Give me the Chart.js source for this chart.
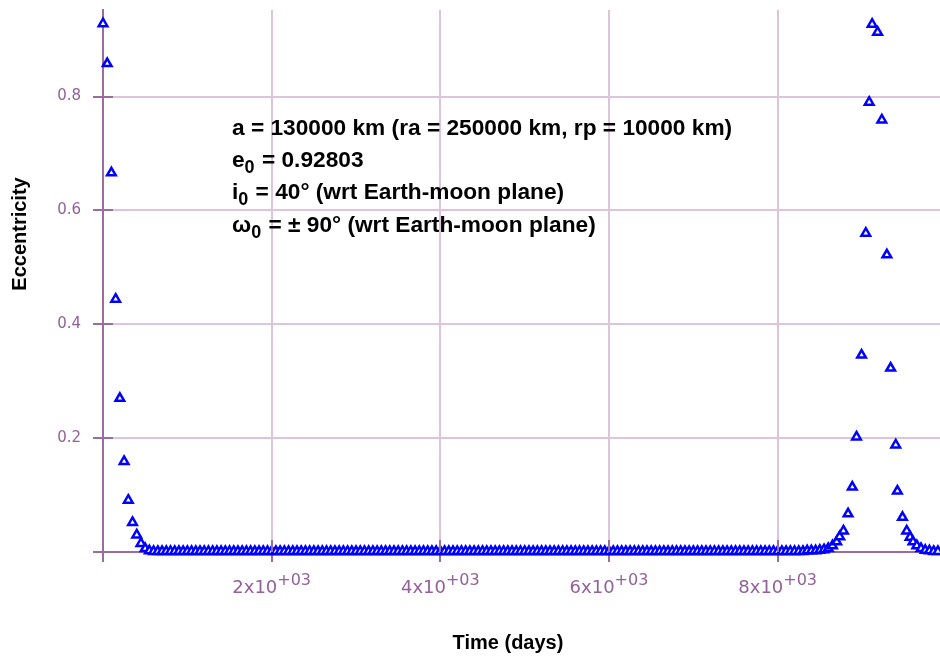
<!DOCTYPE html>
<html>
<head>
<meta charset="utf-8">
<script src="https://cdn.jsdelivr.net/npm/chart.js@4.4.1/dist/chart.umd.min.js"></script>
<style>
  html, body { margin: 0; padding: 0; background: #fff; }
  #wrap { width: 940px; height: 656px; position: relative; }
</style>
</head>
<body>
<div id="wrap"><canvas id="myChart"></canvas></div>
<script>
// time (days) of each sample
const timeDays = [
  0, 50, 100, 150, 200, 250, 300, 350, 400, 450, 500, 550, 600, 650, 700, 750, 800, 850, 900, 950,
  1000, 1050, 1100, 1150, 1200, 1250, 1300, 1350, 1400, 1450, 1500, 1550, 1600, 1650, 1700, 1750, 1800, 1850, 1900, 1950,
  2000, 2050, 2100, 2150, 2200, 2250, 2300, 2350, 2400, 2450, 2500, 2550, 2600, 2650, 2700, 2750, 2800, 2850, 2900, 2950,
  3000, 3050, 3100, 3150, 3200, 3250, 3300, 3350, 3400, 3450, 3500, 3550, 3600, 3650, 3700, 3750, 3800, 3850, 3900, 3950,
  4000, 4050, 4100, 4150, 4200, 4250, 4300, 4350, 4400, 4450, 4500, 4550, 4600, 4650, 4700, 4750, 4800, 4850, 4900, 4950,
  5000, 5050, 5100, 5150, 5200, 5250, 5300, 5350, 5400, 5450, 5500, 5550, 5600, 5650, 5700, 5750, 5800, 5850, 5900, 5950,
  6000, 6050, 6100, 6150, 6200, 6250, 6300, 6350, 6400, 6450, 6500, 6550, 6600, 6650, 6700, 6750, 6800, 6850, 6900, 6950,
  7000, 7050, 7100, 7150, 7200, 7250, 7300, 7350, 7400, 7450, 7500, 7550, 7600, 7650, 7700, 7750, 7800, 7850, 7900, 7950,
  8000, 8050, 8100, 8150, 8200, 8250, 8300, 8350, 8400, 8450,
  8500, 8550, 8600, 8650, 8700,
  8735, 8780, 8835, 8885, 8935, 8995, 9045, 9085, 9120, 9185, 9235, 9295, 9340, 9400, 9420,
  9480, 9530, 9570, 9605, 9650, 9700, 9750, 9800, 9850, 9900
];

const eccentricity = [
  0.928, 0.858, 0.666, 0.444, 0.270, 0.159, 0.091, 0.052, 0.030, 0.015, 0.006, 0.002, 0.001, 0.001, 0.001, 0.001, 0.001, 0.001, 0.001, 0.001,
  0.001, 0.001, 0.001, 0.001, 0.001, 0.001, 0.001, 0.001, 0.001, 0.001, 0.001, 0.001, 0.001, 0.001, 0.001, 0.001, 0.001, 0.001, 0.001, 0.001,
  0.001, 0.001, 0.001, 0.001, 0.001, 0.001, 0.001, 0.001, 0.001, 0.001, 0.001, 0.001, 0.001, 0.001, 0.001, 0.001, 0.001, 0.001, 0.001, 0.001,
  0.001, 0.001, 0.001, 0.001, 0.001, 0.001, 0.001, 0.001, 0.001, 0.001, 0.001, 0.001, 0.001, 0.001, 0.001, 0.001, 0.001, 0.001, 0.001, 0.001,
  0.001, 0.001, 0.001, 0.001, 0.001, 0.001, 0.001, 0.001, 0.001, 0.001, 0.001, 0.001, 0.001, 0.001, 0.001, 0.001, 0.001, 0.001, 0.001, 0.001,
  0.001, 0.001, 0.001, 0.001, 0.001, 0.001, 0.001, 0.001, 0.001, 0.001, 0.001, 0.001, 0.001, 0.001, 0.001, 0.001, 0.001, 0.001, 0.001, 0.001,
  0.001, 0.001, 0.001, 0.001, 0.001, 0.001, 0.001, 0.001, 0.001, 0.001, 0.001, 0.001, 0.001, 0.001, 0.001, 0.001, 0.001, 0.001, 0.001, 0.001,
  0.001, 0.001, 0.001, 0.001, 0.001, 0.001, 0.001, 0.001, 0.001, 0.001, 0.001, 0.001, 0.001, 0.001, 0.001, 0.001, 0.001, 0.001, 0.001, 0.001,
  0.001, 0.001, 0.001, 0.001, 0.001, 0.001, 0.001, 0.002, 0.002, 0.002,
  0.003, 0.004, 0.006, 0.011, 0.018,
  0.027, 0.037, 0.067, 0.114, 0.202, 0.346, 0.560, 0.790, 0.927, 0.913, 0.759, 0.522, 0.323, 0.188, 0.107,
  0.061, 0.037, 0.026, 0.018, 0.011, 0.006, 0.003, 0.002, 0.001, 0.001
];

const xTicks = [0, 2000, 4000, 6000, 8000];
const xTickMantissa = ['', '2x10', '4x10', '6x10', '8x10'];
const xTickExponent = '+03';
const yTicks = [0, 0.2, 0.4, 0.6, 0.8];
const yTickLabels = ['', '0.2', '0.4', '0.6', '0.8'];

const xTitle = 'Time (days)';
const yTitle = 'Eccentricity';

// annotation lines: [text, isSubscript]
const noteLines = [
  [['a = 130000 km (ra = 250000 km, rp = 10000 km)', false]],
  [['e', false], ['0', true], [' = 0.92803', false]],
  [['i', false], ['0', true], [' = 40° (wrt Earth-moon plane)', false]],
  [['ω', false], ['0', true], [' = ± 90° (wrt Earth-moon plane)', false]]
];

const purple = '#9c6c9c';
const lightPurple = '#dcc4dc';
const labelPurple = '#93609a';

const overlay = {
  id: 'overlay',
  afterDraw(chart) {
    const c = chart.ctx;
    const xs = chart.scales.x, ys = chart.scales.y;
    const area = chart.chartArea;
    c.save();

    // tick marks crossing into the plot
    c.strokeStyle = purple;
    c.lineWidth = 2;
    yTicks.forEach(v => {
      if (v === 0) return;
      const py = Math.round(ys.getPixelForValue(v));
      c.beginPath(); c.moveTo(area.left, py); c.lineTo(area.left + 10, py); c.stroke();
    });
    xTicks.forEach(v => {
      if (v === 0) return;
      const px = Math.round(xs.getPixelForValue(v));
      c.beginPath(); c.moveTo(px, area.bottom); c.lineTo(px, area.bottom - 12); c.stroke();
    });

    // x tick labels with superscript exponent
    c.fillStyle = labelPurple;
    c.textBaseline = 'alphabetic';
    c.textAlign = 'left';
    xTicks.forEach((v, i) => {
      const m = xTickMantissa[i];
      if (!m) return;
      c.font = '18px "DejaVu Sans"';
      const w1 = c.measureText(m).width;
      c.font = '16px "DejaVu Sans"';
      const w2 = c.measureText(xTickExponent).width;
      const x0 = xs.getPixelForValue(v) - (w1 + w2) / 2;
      c.font = '18px "DejaVu Sans"';
      c.fillText(m, x0, area.bottom + 41);
      c.font = '16px "DejaVu Sans"';
      c.fillText(xTickExponent, x0 + w1, area.bottom + 33);
    });

    // axis titles
    c.fillStyle = '#000';
    c.font = 'bold 20px "Liberation Sans", Arial, sans-serif';
    c.textAlign = 'center';
    c.fillText(xTitle, 508, 649);
    c.save();
    c.translate(26, 234);
    c.rotate(-Math.PI / 2);
    c.fillText(yTitle, 0, 0);
    c.restore();

    // annotation
    c.textAlign = 'left';
    const baselines = [135, 167, 199, 232];
    noteLines.forEach((parts, li) => {
      let x = 232;
      parts.forEach(([t, sub]) => {
        c.font = sub ? 'bold 18px "Liberation Sans", Arial, sans-serif'
                     : 'bold 22.7px "Liberation Sans", Arial, sans-serif';
        c.fillText(t, x, baselines[li] + (sub ? 6 : 0));
        x += c.measureText(t).width + (sub ? 1 : 0);
      });
    });
    c.restore();
  }
};

const ctx = document.getElementById('myChart');

new Chart(ctx, {
  type: 'scatter',
  data: {
    datasets: [{
      label: yTitle,
      data: timeDays.map((t, i) => ({ x: t, y: eccentricity[i] })),
      pointStyle: 'triangle',
      pointRadius: 5,
      pointBorderWidth: 2.5,
      borderColor: '#0000ff',
      backgroundColor: '#ffffff',
      clip: false
    }]
  },
  options: {
    responsive: true,
    maintainAspectRatio: false,
    animation: false,
    layout: { autoPadding: false, padding: { top: 10, left: 0, right: 0, bottom: 0 } },
    plugins: { legend: { display: false }, tooltip: { enabled: false } },
    scales: {
      x: {
        type: 'linear',
        min: 0,
        max: 9925,
        afterBuildTicks: s => { s.ticks = xTicks.map(v => ({ value: v })); },
        afterFit: s => {
          s.height = 104;
          s.paddingLeft = s.paddingRight = s.paddingTop = s.paddingBottom = 0;
        },
        ticks: { callback: () => '', maxRotation: 0 },
        grid: { color: lightPurple, lineWidth: 2, tickColor: purple, tickLength: 10 },
        border: { color: purple, width: 2 }
      },
      y: {
        min: 0,
        max: 0.952,
        afterBuildTicks: s => { s.ticks = yTicks.map(v => ({ value: v })); },
        afterFit: s => {
          s.width = 103;
          s.paddingLeft = s.paddingRight = s.paddingTop = s.paddingBottom = 0;
        },
        ticks: {
          callback: (v, i) => yTickLabels[i],
          color: labelPurple,
          font: { family: 'DejaVu Sans', size: 15 },
          padding: 12
        },
        grid: { color: lightPurple, lineWidth: 2, tickColor: purple, tickLength: 10 },
        border: { color: purple, width: 2 }
      }
    }
  },
  plugins: [overlay]
});
</script>
</body>
</html>
